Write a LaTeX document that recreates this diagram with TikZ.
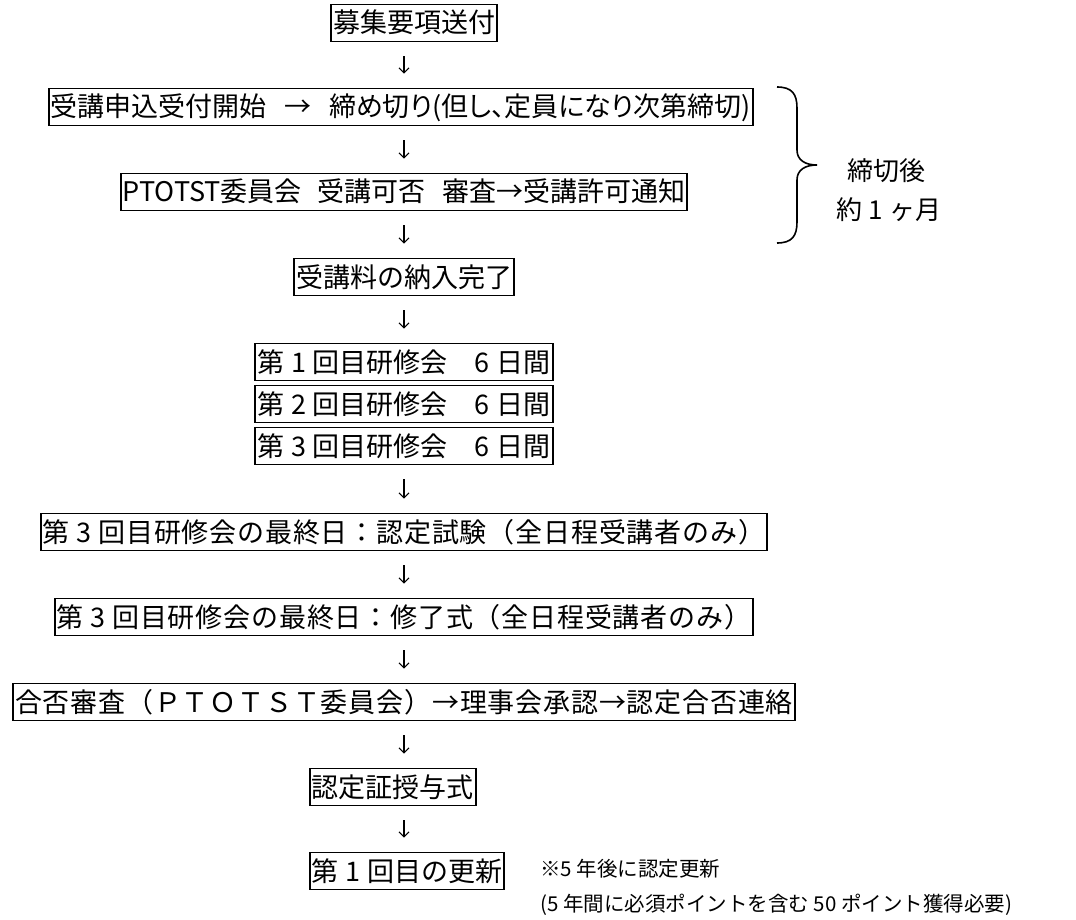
\documentclass[tikz,border=0pt]{standalone}
\usepackage{fontspec}
\setmainfont{Noto Sans CJK JP}
\newfontfamily\jpp[RawFeature=+palt]{Noto Sans CJK JP}
\newfontfamily\jpw[LetterSpace=3]{Noto Sans CJK JP}
\usetikzlibrary{arrows.meta}
\newcommand{\hs}{\hspace{0.25em}}
\begin{document}
\begin{tikzpicture}[x=1pt,y=-1pt,
  box/.style={draw,line width=1.8pt,inner xsep=2pt,inner ysep=4.5pt,
    text height=24pt,text depth=4pt,font=\fontsize{27}{32}\selectfont},
  boxp/.style={box,font=\jpp\fontsize{27}{32}\selectfont},
  boxw/.style={box,font=\jpw\fontsize{27}{32}\selectfont},
  arr/.style={line width=1.1pt,-{Straight Barb[length=5pt,width=10pt]},
    shorten <=14pt,shorten >=14pt},
  lbl/.style={font=\fontsize{26}{30}\selectfont,inner sep=0pt},
  note/.style={font=\fontsize{20.5}{24}\selectfont,inner sep=0pt,anchor=west}]
\useasboundingbox (0,0) rectangle (1076,920);
\coordinate (col) at (404,0);
\node[box] (b1) at (414,23) {募集要項送付};
\node[boxp] (b2) at (401,107) {受講申込受付開始\hspace{0.65em}→\hspace{0.65em}締め切り(但し、定員になり次第締切)};
\node[boxp] (b3) at (404,192) {PTOTST委員会\hspace{0.6em}受講可否\hspace{0.6em}審査→受講許可通知};
\node[box] (b4) at (404,277) {受講料の納入完了};
\node[box] (b5) at (404,362) {第\hs{}1\hs{}回目研修会\hspace{1em}6\hs{}日間};
\node[box] (b6) at (404,404) {第\hs{}2\hs{}回目研修会\hspace{1em}6\hs{}日間};
\node[box] (b7) at (404,446) {第\hs{}3\hs{}回目研修会\hspace{1em}6\hs{}日間};
\node[boxw] (b8) at (404,532) {第\hs{}3\hs{}回目研修会の最終日：認定試験（全日程受講者のみ）};
\node[boxw] (b9) at (404,617) {第\hs{}3\hs{}回目研修会の最終日：修了式（全日程受講者のみ）};
\node[boxw] (b10) at (404,702) {合否審査（ＰＴＯＴＳＴ委員会）→理事会承認→認定合否連絡};
\node[box,anchor=west] (b11) at (309,787) {認定証授与式};
\node[box,anchor=west] (b12) at (309,871) {第\hs{}1\hs{}回目の更新};
\node[note] (n1) at (540,869) {※5 年後に認定更新};
\node[note] (n2) at (540,905) {(5 年間に必須ポイントを含む 50 ポイント獲得必要)};
\node[lbl] (t1) at (886,171) {締切後};
\node[lbl] (t2) at (889,210) {約\hs{}1\hs{}ヶ月};
\draw[line width=1.6pt]
  (777,87) .. controls (792,87) and (797,94) .. (797,108) -- (797,150)
  .. controls (797,160) and (805,165) .. (817,165)
  .. controls (805,165) and (797,170) .. (797,180) -- (797,222)
  .. controls (797,236) and (792,243) .. (777,243);
\draw[arr] (b1.south -| col) -- (b2.north -| col);
\draw[arr] (b2.south -| col) -- (b3.north -| col);
\draw[arr] (b3.south -| col) -- (b4.north -| col);
\draw[arr] (b4.south -| col) -- (b5.north -| col);
\draw[arr] (b7.south -| col) -- (b8.north -| col);
\draw[arr] (b8.south -| col) -- (b9.north -| col);
\draw[arr] (b9.south -| col) -- (b10.north -| col);
\draw[arr] (b10.south -| col) -- (b11.north -| col);
\draw[arr] (b11.south -| col) -- (b12.north -| col);
\end{tikzpicture}
\end{document}
